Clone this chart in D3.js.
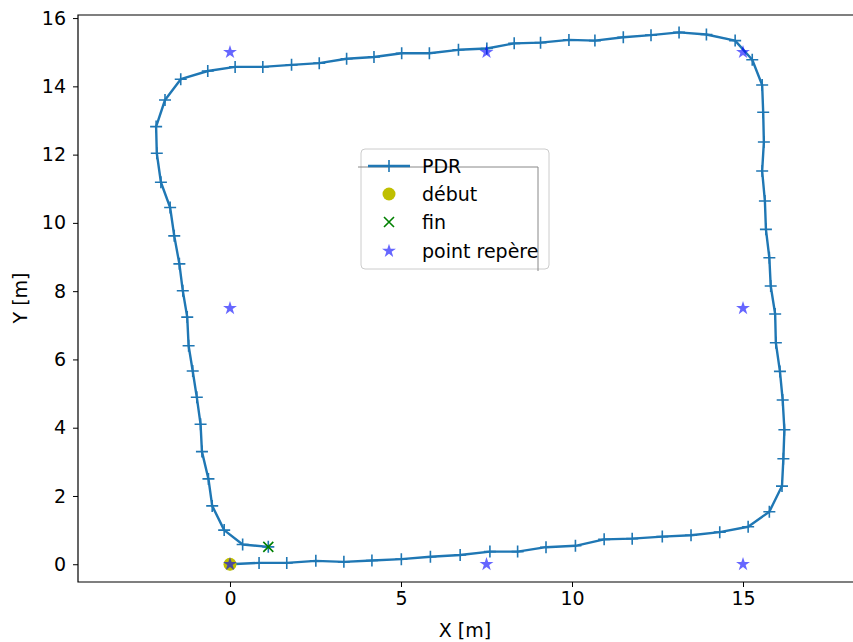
<html>
<head>
<meta charset="utf-8">
<title>PDR</title>
<style>
  body { margin: 0; background: #fff; }
  text { font-family: "DejaVu Sans", sans-serif; }
</style>
</head>
<body>
<script src="https://cdn.jsdelivr.net/npm/d3@7"></script>
<script>
var width = 853, height = 642;

// PDR trajectory (m)
var pdrX = [0, 0.85, 1.66, 2.51, 3.33, 4.15, 5.01, 5.86, 6.73, 7.60, 8.41, 9.24, 10.10, 10.94, 11.76, 12.64, 13.48, 14.32, 15.15, 15.77,
            16.14, 16.18, 16.21, 16.16, 16.08, 15.96, 15.94, 15.81, 15.77, 15.67, 15.64, 15.56, 15.61, 15.59, 15.56, 15.27, 14.77,
            13.93, 13.13, 12.31, 11.50, 10.67, 9.91, 9.08, 8.31, 7.51, 6.68, 5.83, 5.02, 4.21, 3.41, 2.61, 1.80, 0.96, 0.15, -0.65,
            -1.44, -1.90, -2.16, -2.14, -2.02, -1.75, -1.63, -1.48, -1.38, -1.25, -1.21, -1.09, -0.97, -0.86, -0.82, -0.63, -0.52,
            -0.17, 0.37, 1.12];
var pdrY = [0, 0.04, 0.04, 0.10, 0.07, 0.11, 0.15, 0.22, 0.27, 0.37, 0.37, 0.50, 0.54, 0.73, 0.75, 0.81, 0.85, 0.94, 1.10, 1.54,
            2.29, 3.09, 3.94, 4.81, 5.65, 6.49, 7.33, 8.15, 8.98, 9.81, 10.64, 11.52, 12.37, 13.24, 14.04, 14.78, 15.34,
            15.52, 15.58, 15.50, 15.44, 15.34, 15.36, 15.28, 15.26, 15.11, 15.07, 14.97, 14.97, 14.86, 14.81, 14.68, 14.63, 14.57, 14.57, 14.45,
            14.21, 13.60, 12.82, 12.04, 11.19, 10.45, 9.62, 8.80, 8.01, 7.24, 6.40, 5.66, 4.89, 4.10, 3.30, 2.50, 1.71,
            1.00, 0.58, 0.51];
// landmarks
var repX = [0, 7.5, 15, 15, 15, 7.5, 0, 0];
var repY = [0, 0, 0, 7.5, 15, 15, 15, 7.5];
var startPt = [0, 0];
var endPt = [1.12, 0.51];
var xTicks = [0, 5, 10, 15];
var yTicks = [0, 2, 4, 6, 8, 10, 12, 14, 16];

var fs = 19;
var svg = d3.select('body').append('svg')
    .attr('width', width).attr('height', height);

var mLeft = 78, mTop = 15, mBottom = 582, mRight = 870;
var x = d3.scaleLinear().domain([-4.444, 18.713]).range([mLeft, mRight]);
var y = d3.scaleLinear().domain([-0.52, 16.09]).range([mBottom, mTop]);

// axes
var xAxis = svg.append('g').attr('transform', 'translate(0,' + mBottom + ')')
    .call(d3.axisBottom(x).tickValues(xTicks).tickSize(5).tickPadding(5));
var yAxis = svg.append('g').attr('transform', 'translate(' + mLeft + ',0)')
    .call(d3.axisLeft(y).tickValues(yTicks).tickSize(5).tickPadding(7));
[xAxis, yAxis].forEach(function(a) {
    a.select('.domain').remove();
    a.selectAll('line').attr('stroke', '#000').attr('stroke-width', 1);
    a.selectAll('text').attr('font-size', fs).attr('fill', '#000')
        .style('font-family', '"DejaVu Sans", sans-serif');
});
// spines
svg.append('path')
    .attr('d', 'M' + width + ',' + mTop + 'H' + mLeft + 'V' + mBottom + 'H' + width)
    .attr('fill', 'none').attr('stroke', '#000').attr('stroke-width', 1.2);

svg.append('text').attr('x', 465).attr('y', 637).attr('text-anchor', 'middle')
    .attr('font-size', fs).text('X [m]');
svg.append('text').attr('transform', 'translate(27,' + 298 + ') rotate(-90)')
    .attr('text-anchor', 'middle').attr('font-size', fs).text('Y [m]');

var plot = svg.append('g');
var pts = pdrX.map(function(d, i) { return [d, pdrY[i]]; });
var line = d3.line().x(function(d) { return x(d[0]); }).y(function(d) { return y(d[1]); });

plot.append('path').attr('d', line(pts))
    .attr('fill', 'none').attr('stroke', '#1f77b4').attr('stroke-width', 2.4)
    .attr('stroke-linejoin', 'round');

function plus(g, cx, cy, s) {
    g.append('path').attr('d', 'M' + (cx - s) + ',' + cy + 'H' + (cx + s) + 'M' + cx + ',' + (cy - s) + 'V' + (cy + s))
        .attr('stroke', '#1f77b4').attr('stroke-width', 1.6).attr('fill', 'none');
}
pts.forEach(function(p) { plus(plot, x(p[0]), y(p[1]), 6); });

// start
plot.append('circle').attr('cx', x(startPt[0])).attr('cy', y(startPt[1])).attr('r', 6.5)
    .attr('fill', '#bfbf00');
// end
function cross(g, cx, cy, s) {
    g.append('path').attr('d', 'M' + (cx - s) + ',' + (cy - s) + 'L' + (cx + s) + ',' + (cy + s) +
        'M' + (cx - s) + ',' + (cy + s) + 'L' + (cx + s) + ',' + (cy - s))
        .attr('stroke', '#008000').attr('stroke-width', 1.6).attr('fill', 'none');
}
cross(plot, x(endPt[0]), y(endPt[1]), 5);

// landmarks
var star = d3.symbol().type(d3.symbolStar).size(60);
repX.forEach(function(d, i) {
    plot.append('path').attr('d', star())
        .attr('transform', 'translate(' + x(d) + ',' + y(repY[i]) + ')')
        .attr('fill', '#0000ff').attr('fill-opacity', 0.6);
});

// legend
var lg = svg.append('g');
lg.append('rect').attr('x', 361).attr('y', 149).attr('width', 188).attr('height', 120)
    .attr('rx', 4).attr('fill', '#fff').attr('fill-opacity', 0.8)
    .attr('stroke', '#ccc').attr('stroke-width', 1);
lg.append('path').attr('d', 'M358,167H538V271')
    .attr('fill', 'none').attr('stroke', '#888').attr('stroke-width', 1);
var rows = [166, 194, 222, 251];
lg.append('path').attr('d', 'M368,' + rows[0] + 'H410')
    .attr('stroke', '#1f77b4').attr('stroke-width', 2.4);
plus(lg, 389, rows[0], 6);
lg.append('circle').attr('cx', 389).attr('cy', rows[1]).attr('r', 6.5).attr('fill', '#bfbf00');
cross(lg, 389, rows[2], 5);
lg.append('path').attr('d', star()).attr('transform', 'translate(389,' + rows[3] + ')')
    .attr('fill', '#0000ff').attr('fill-opacity', 0.6);
['PDR', 'début', 'fin', 'point repère'].forEach(function(t, i) {
    lg.append('text').attr('x', 422).attr('y', rows[i] + 7).attr('font-size', fs).text(t);
});
</script>
</body>
</html>
